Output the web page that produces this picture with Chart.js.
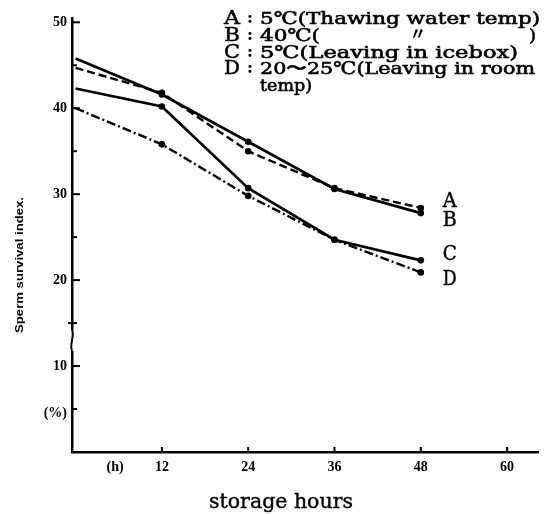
<!DOCTYPE html>
<html>
<head>
<meta charset="utf-8">
<script src="https://cdn.jsdelivr.net/npm/chart.js@4.4.1/dist/chart.umd.min.js"></script>
<style>
html,body{margin:0;padding:0;background:#fff;}
canvas{display:block;}
</style>
</head>
<body>
<canvas id="c" width="558" height="514"></canvas>
<script>
// ---- data ----
const hours = [0, 12, 24, 36, 48];
const seriesA = [44.7, 41.8, 35.0, 30.7, 28.4];
const seriesB = [45.8, 41.6, 36.1, 30.6, 27.8];
const seriesC = [42.3, 40.2, 30.7, 24.7, 22.3];
const seriesD = [40.0, 35.8, 29.8, 24.7, 20.9];
const seriesKeys = ['A', 'B', 'C', 'D'];
const legendTexts = ['5℃(Thawing water temp)', '40℃(', '5℃(Leaving in icebox)', '20〜25℃(Leaving in room'];
const legendContinuation = 'temp)';
const xTickValues = [5.5, 12, 24, 36, 48, 60];
const xTickLabels = ['(h)', '12', '24', '36', '48', '60'];
const yTickValues = [4.5, 10, 20, 30, 40, 50];
const yTickLabels = ['(%)', '10', '20', '30', '40', '50'];
const yMajorTicks = [10, 20, 30, 40, 50];
const yMinorTicks = [5, 15, 25, 35, 45];
const xTitle = 'storage hours';
const yTitle = 'Sperm survival index.';

const toPts = arr => hours.map((h, i) => ({x: h, y: arr[i]}));
const radii = hours.map(h => h === 0 ? 0 : 3.3);

function fitText(ctx, text, x, y, width, align, stroke) {
  const w = ctx.measureText(text).width;
  const sx = width / w;
  ctx.save();
  ctx.translate(x, y);
  ctx.scale(sx, 1);
  ctx.textAlign = 'left';
  let ox = 0;
  if (align === 'center') ox = -w / 2;
  else if (align === 'right') ox = -w;
  ctx.fillText(text, ox, 0);
  if (stroke) { ctx.lineWidth = stroke; ctx.strokeText(text, ox, 0); }
  ctx.restore();
}

const decor = {
  id: 'decor',
  afterDraw(chart) {
    const ctx = chart.ctx;
    const xs = chart.scales.x, ys = chart.scales.y;
    const ax = xs.left, ay = ys.bottom;
    ctx.save();
    ctx.strokeStyle = '#000';
    ctx.fillStyle = '#000';
    ctx.lineWidth = 2;
    // y ticks (inside)
    yMajorTicks.forEach(v => {
      const p = ys.getPixelForValue(v);
      ctx.beginPath(); ctx.moveTo(ax, p); ctx.lineTo(ax + 8, p); ctx.stroke();
    });
    yMinorTicks.forEach(v => {
      const p = ys.getPixelForValue(v);
      ctx.beginPath(); ctx.moveTo(v === 15 ? ax - 4 : ax, p); ctx.lineTo(ax + 5, p); ctx.stroke();
    });
    // axis break wiggle
    const b1 = ys.getPixelForValue(14.2), b2 = ys.getPixelForValue(11.8);
    ctx.fillStyle = '#fff';
    ctx.fillRect(ax - 3, b1, 6, b2 - b1);
    ctx.fillStyle = '#000';
    ctx.beginPath();
    ctx.moveTo(ax, b1);
    ctx.bezierCurveTo(ax + 3, b1 + 5, ax - 3, b2 - 5, ax, b2);
    ctx.stroke();
    // x ticks (inside, upward)
    xTickValues.slice(1).forEach(v => {
      const p = xs.getPixelForValue(v);
      ctx.beginPath(); ctx.moveTo(p, ay); ctx.lineTo(p, ay - 5); ctx.stroke();
    });
    // legend block
    ctx.textBaseline = 'alphabetic';
    const lineH = 16.8, base0 = 24;
    seriesKeys.forEach((k, i) => {
      const y = base0 + i * lineH;
      ctx.font = '19px "DejaVu Serif"';
      fitText(ctx, k, 224, y, 16, 'left', 0.5);
      ctx.font = 'bold 16px "DejaVu Serif"';
      ctx.fillText(':', 247, y - 1);
      ctx.font = '17px "DejaVu Serif"';
      const widths = [280, 60, 258, 275];
      fitText(ctx, legendTexts[i], 260, y, widths[i], 'left', 0.6);
    });
    // B line ditto and closing paren
    ctx.font = 'bold 18px "Noto Sans CJK JP"';
    fitText(ctx, '〃', 410, base0 + lineH - 1, 16, 'left');
    ctx.font = '17px "DejaVu Serif"';
    fitText(ctx, ')', 529, base0 + lineH, 7, 'left', 0.6);
    fitText(ctx, legendContinuation, 260, base0 + 4 * lineH, 52, 'left', 0.6);
    // end labels
    const ends = [seriesA, seriesB, seriesC, seriesD];
    const offs = [-1, 13, 0, 13];
    ctx.font = '20px "DejaVu Serif"';
    ends.forEach((s, i) => {
      const yv = ys.getPixelForValue(s[s.length - 1]);
      const xv = xs.getPixelForValue(hours[hours.length - 1]) + 22;
      fitText(ctx, seriesKeys[i], xv, yv + offs[i], 14, 'left', 0.4);
    });
    // axis titles
    ctx.font = '21px "DejaVu Serif"';
    fitText(ctx, xTitle, 281, 508, 144, 'center', 0.4);
    ctx.save();
    ctx.translate(23, 265);
    ctx.rotate(-Math.PI / 2);
    ctx.font = 'bold 11px "Liberation Sans"';
    fitText(ctx, yTitle, 0, 0, 136, 'center');
    ctx.restore();
    ctx.restore();
  }
};

const whiteBg = {
  id: 'whiteBg',
  beforeDraw(chart) {
    const ctx = chart.ctx;
    ctx.save(); ctx.fillStyle = '#fff';
    ctx.fillRect(0, 0, chart.width, chart.height); ctx.restore();
  }
};

const tickFont = {family: '"Liberation Serif"', weight: 'bold', size: 14};

new Chart(document.getElementById('c'), {
  type: 'line',
  data: {
    datasets: [
      {label: 'A', data: toPts(seriesA), borderColor: '#000', backgroundColor: '#000', borderWidth: 2.4, borderDash: [8, 4], pointRadius: radii, pointBorderWidth: 0, tension: 0},
      {label: 'B', data: toPts(seriesB), borderColor: '#000', backgroundColor: '#000', borderWidth: 2.7, pointRadius: radii, pointBorderWidth: 0, tension: 0},
      {label: 'C', data: toPts(seriesC), borderColor: '#000', backgroundColor: '#000', borderWidth: 2.7, pointRadius: radii, pointBorderWidth: 0, tension: 0},
      {label: 'D', data: toPts(seriesD), borderColor: '#000', backgroundColor: '#000', borderWidth: 2.4, borderDash: [9, 3, 2, 3], pointRadius: radii, pointBorderWidth: 0, tension: 0}
    ]
  },
  options: {
    responsive: false,
    animation: false,
    devicePixelRatio: 1,
    layout: {padding: {left: 0, right: 20, top: 18, bottom: 0}},
    plugins: {legend: {display: false}, tooltip: {enabled: false}},
    scales: {
      x: {
        type: 'linear', min: -0.5, max: 64.3,
        afterBuildTicks: s => { s.ticks = xTickValues.map(v => ({value: v})); },
        afterFit: s => { s.height = 62; },
        grid: {display: false, drawTicks: false},
        border: {display: true, color: '#000', width: 2.5},
        ticks: {autoSkip: false, maxRotation: 0, padding: 7, color: '#000', font: tickFont,
          callback: (v, i) => xTickLabels[i]}
      },
      y: {
        type: 'linear', min: 0, max: 50.5,
        afterBuildTicks: s => { s.ticks = yTickValues.map(v => ({value: v})); },
        afterFit: s => { s.width = 72; },
        grid: {display: false, drawTicks: false},
        border: {display: true, color: '#000', width: 2.5},
        ticks: {autoSkip: false, padding: 5, color: '#000', font: tickFont,
          callback: (v, i) => yTickLabels[i]}
      }
    }
  },
  plugins: [whiteBg, decor]
});
</script>
</body>
</html>
